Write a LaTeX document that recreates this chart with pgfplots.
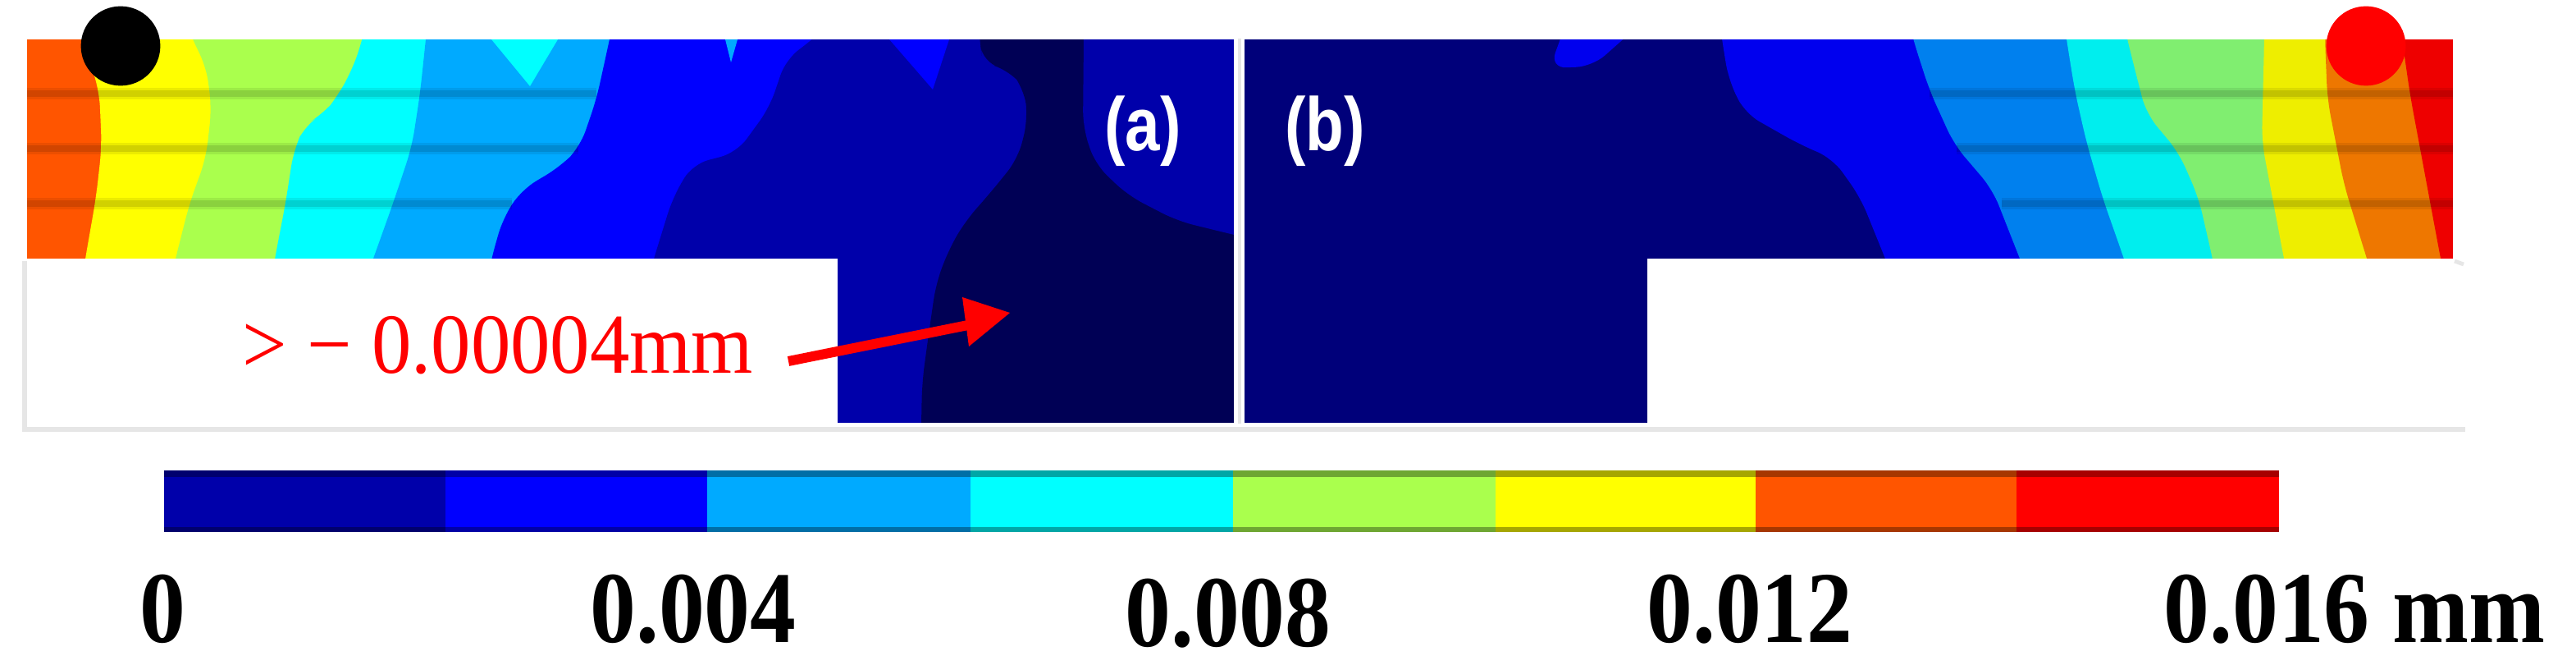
\documentclass[border=0pt]{standalone}
\usepackage{pgfplots}
\pgfplotsset{compat=1.18}
\usepackage{fontspec}
\setmainfont{Liberation Serif}
\newfontfamily\lsans{Liberation Sans}
\definecolor{lo}{HTML}{FF5500}\definecolor{ly}{HTML}{FFFF00}\definecolor{lg}{HTML}{AAFF4D}
\definecolor{lc}{HTML}{00FFFF}\definecolor{lb}{HTML}{00AAFF}\definecolor{lB}{HTML}{0000FF}
\definecolor{ld}{HTML}{0000AA}\definecolor{lD}{HTML}{000055}\definecolor{lr}{HTML}{FF0000}
\definecolor{rn}{HTML}{00007A}\definecolor{rB}{HTML}{0000EE}\definecolor{rb}{HTML}{0080EE}
\definecolor{rc}{HTML}{00EEEE}\definecolor{rg}{HTML}{80EE70}\definecolor{ry}{HTML}{EEEE00}
\definecolor{ro}{HTML}{EE7700}\definecolor{rr}{HTML}{EE0000}
\definecolor{shade}{HTML}{E6E6E6}
\pgfplotsset{reg/.style={fill=#1,draw=none,forget plot},
  rnd/.style={fill=#1,draw=none,forget plot,rounded corners=5pt},
  meshw/.style={black,opacity=.08,line width=3.5pt,forget plot},
  meshn/.style={black,opacity=.11,line width=1.8pt,forget plot}}
\newcommand{\lab}[3]{\node[anchor=base,inner sep=0pt,font=\fontsize{31}{31}\selectfont\bfseries] at (axis cs:#1,#2) {\scalebox{.9}[1]{#3}};}
\begin{document}
\begin{tikzpicture}
\begin{axis}[scale only axis,width=785pt,height=202.5pt,xmin=0,xmax=3140,ymin=0,ymax=810,y dir=reverse,hide axis,clip=true]
% background
\addplot[reg=white] coordinates {(0,0)(3140,0)(3140,810)(0,810)} --cycle;
% ---- panel (a) ----
\addplot[reg=ld] coordinates {(1021,315)(1504,315)(1504,515)(1021,515)} --cycle;
\addplot[reg=lo] coordinates {(33,20)(1530,20)(1530,340)(33,340)} --cycle;
\addplot[rnd=ly] coordinates {(90,20)(100,48)(121,110)(124,179)(117,241)(104,315)(100,340)(1530,340)(1530,20)} --cycle;
\addplot[rnd=lg] coordinates {(225,20)(234,48)(251,79)(258,131)(251,193)(231,248)(214,315)(208,340)(1530,340)(1530,20)} --cycle;
\addplot[rnd=lc] coordinates {(448,20)(442,48)(429,86)(409,121)(395,138)(372,152)(358,183)(348,248)(335,315)(331,340)(1530,340)(1530,20)} --cycle;
\addplot[rnd=lb] coordinates {(522,20)(519,48)(512,114)(502,179)(479,248)(455,315)(446,340)(1530,340)(1530,20)} --cycle;
\addplot[reg=lc] coordinates {(599,48)(646,105)(680,48)} --cycle;
\addplot[rnd=lB] coordinates {(749,20)(743,48)(727,121)(707,179)(683,203)(636,231)(613,266)(599,315)(594,340)(1530,340)(1530,20)} --cycle;
\addplot[reg=lb] coordinates {(884,48)(891,76)(899,48)} --cycle;
\addplot[rnd=ld] coordinates {(1020,20)(991,48)(958,72)(938,131)(898,186)(844,200)(820,241)(797,315)(790,340)(1530,340)(1530,20)} --cycle;
\addplot[reg=lB] coordinates {(1084,48)(1137,109)(1157,48)} --cycle;
\addplot[rnd=lD] coordinates {(1192,20)(1194,48)(1198,76)(1231,86)(1248,107)(1253,145)(1241,193)(1208,234)(1177,269)(1157,303)(1141,345)(1131,414)(1124,466)(1123,515)(1123,545)(1530,545)(1530,20)} --cycle;
\addplot[rnd=ld] coordinates {(1321,20)(1321,48)(1320,155)(1335,200)(1375,238)(1435,269)(1504,286)(1535,293)(1535,20)} --cycle;
% ---- panel (b) ----
\addplot[reg=rn] coordinates {(1517,20)(3010,20)(3010,340)(2008,340)(2008,545)(1517,545)} --cycle;
\addplot[rnd=rB] coordinates {(1912,20)(1889,83)(1941,81)(2010,20)} --cycle;
\addplot[rnd=rB] coordinates {(2095,20)(2099,48)(2107,97)(2127,138)(2194,176)(2234,193)(2268,241)(2298,315)(2308,340)(3010,340)(3010,20)} --cycle;
\addplot[rnd=rb] coordinates {(2325,20)(2332,48)(2352,110)(2382,176)(2429,231)(2462,315)(2472,340)(3010,340)(3010,20)} --cycle;
\addplot[rnd=rc] coordinates {(2515,20)(2519,48)(2529,110)(2543,172)(2563,241)(2589,315)(2597,340)(3010,340)(3010,20)} --cycle;
\addplot[rnd=rg] coordinates {(2587,20)(2593,48)(2616,138)(2656,186)(2680,241)(2697,315)(2702,340)(3010,340)(3010,20)} --cycle;
\addplot[rnd=ry] coordinates {(2760,20)(2760,48)(2757,172)(2770,241)(2784,315)(2789,340)(3010,340)(3010,20)} --cycle;
\addplot[rnd=ro] coordinates {(2834,20)(2834,48)(2837,121)(2857,224)(2885,315)(2893,340)(3010,340)(3010,20)} --cycle;
\addplot[rnd=rr] coordinates {(2924,20)(2928,48)(2938,117)(2958,224)(2975,315)(2980,340)(3010,340)(3010,20)} --cycle;
% white masks round the two panels
\addplot[reg=white] coordinates {(0,0)(3140,0)(3140,48)(0,48)} --cycle;
\addplot[reg=white] coordinates {(0,315)(1021,315)(1021,560)(0,560)} --cycle;
\addplot[reg=white] coordinates {(2008,315)(3140,315)(3140,560)(2008,560)} --cycle;
\addplot[reg=white] coordinates {(1021,515)(2008,515)(2008,560)(1021,560)} --cycle;
\addplot[reg=white] coordinates {(2990,0)(3140,0)(3140,560)(2990,560)} --cycle;
\addplot[reg=white] coordinates {(1504,40)(1517,40)(1517,530)(1504,530)} --cycle;
% grey shadows
\addplot[draw=shade,line width=1.5pt,forget plot] coordinates {(30,318)(30,523)(1021,523)};
\addplot[draw=shade,line width=1.5pt,forget plot] coordinates {(1021,523)(3005,523)};
\addplot[draw=shade,line width=1.2pt,forget plot] coordinates {(2992,318)(3003,322)};
\addplot[draw=shade,line width=1.2pt,forget plot] coordinates {(1511,47)(1511,516)};
% mesh lines
\addplot[meshw] coordinates {(33,114)(727,114)};
\addplot[meshn] coordinates {(33,114)(727,114)};
\addplot[meshw] coordinates {(33,181)(705,181)};
\addplot[meshn] coordinates {(33,181)(705,181)};
\addplot[meshw] coordinates {(33,248)(624,248)};
\addplot[meshn] coordinates {(33,248)(624,248)};
\addplot[meshw] coordinates {(2352,114)(2990,114)};
\addplot[meshn] coordinates {(2352,114)(2990,114)};
\addplot[meshw] coordinates {(2385,181)(2990,181)};
\addplot[meshn] coordinates {(2385,181)(2990,181)};
\addplot[meshw] coordinates {(2440,248)(2990,248)};
\addplot[meshn] coordinates {(2440,248)(2990,248)};
% dots
\addplot[only marks,color=black,mark=*,mark size=11.9pt,mark options={fill=black,draw=black},forget plot] coordinates {(147,56)};
\addplot[only marks,color=lr,mark=*,mark size=11.9pt,mark options={fill=lr,draw=lr},forget plot] coordinates {(2884,56)};
% arrow
\addplot[lr,line width=3pt,forget plot] coordinates {(961,440)(1185,395)};
\addplot[reg=lr] coordinates {(1173,362)(1231,381)(1181,422)} --cycle;
% colour bar
\addplot[reg=ld] coordinates {(200,573)(543,573)(543,648)(200,648)} --cycle;
\addplot[reg=lB] coordinates {(543,573)(862,573)(862,648)(543,648)} --cycle;
\addplot[reg=lb] coordinates {(862,573)(1183,573)(1183,648)(862,648)} --cycle;
\addplot[reg=lc] coordinates {(1183,573)(1503,573)(1503,648)(1183,648)} --cycle;
\addplot[reg=lg] coordinates {(1503,573)(1823,573)(1823,648)(1503,648)} --cycle;
\addplot[reg=ly] coordinates {(1823,573)(2140,573)(2140,648)(1823,648)} --cycle;
\addplot[reg=lo] coordinates {(2140,573)(2458,573)(2458,648)(2140,648)} --cycle;
\addplot[reg=lr] coordinates {(2458,573)(2778,573)(2778,648)(2458,648)} --cycle;
\addplot[black,opacity=.35,line width=2.2pt,forget plot] coordinates {(200,577)(2778,577)};
\addplot[black,opacity=.35,line width=1.5pt,forget plot] coordinates {(200,645)(2778,645)};
% text
\lab{198}{783}{0}
\lab{845}{783}{0.004}
\lab{1497}{788}{0.008}
\lab{2133}{783}{0.012}
\lab{2870}{783}{0.016 mm}
\node[anchor=base west,inner sep=0pt,text=lr,font=\fontsize{26}{26}\selectfont] at (axis cs:295,455) {\scalebox{.93}[1]{> − 0.00004mm}};
\node[text=white,inner sep=0pt,font=\lsans\bfseries\fontsize{23}{23}\selectfont] at (axis cs:1393,160) {\scalebox{.83}[1]{(a)}};
\node[text=white,inner sep=0pt,font=\lsans\bfseries\fontsize{23}{23}\selectfont] at (axis cs:1615,160) {\scalebox{.83}[1]{(b)}};
\end{axis}
\end{tikzpicture}
\end{document}
